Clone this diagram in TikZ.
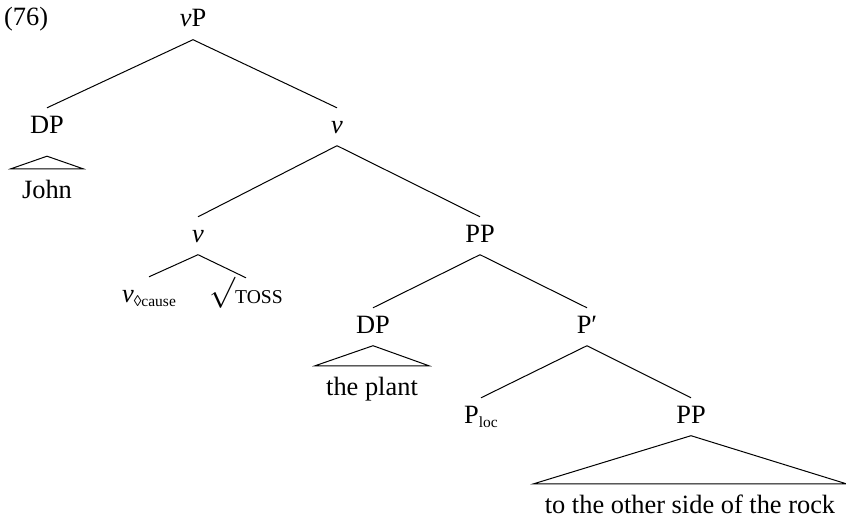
\documentclass[tikz,border=0pt]{standalone}
\usepackage{fontspec}
\setmainfont{Liberation Serif}
\newcommand{\subsz}{\fontsize{15.5}{18}\selectfont}
\newcommand{\capsz}{\fontsize{19.6}{22}\selectfont}
\begin{document}
\begin{tikzpicture}[x=1pt,y=-1pt,
  every node/.style={font=\fontsize{26.4}{30}\selectfont},
  lbl/.style={anchor=base, inner sep=0pt, inner ysep=7.5pt, text height=17.5pt, text depth=5pt},
  leaf/.style={anchor=base, inner sep=0pt, inner xsep=11pt, inner ysep=11pt, text height=18pt, text depth=0pt},
  branch/.style={line width=1pt},
  roof/.style={line width=1pt, line join=miter}]
\useasboundingbox (0,0) rectangle (846,519);
\node[anchor=base west, inner sep=0pt] (ex) at (4,26) {(76)};
% level 0
\node[lbl] (vP) at (193,27) {\textit{v}P};
% level 1
\node[lbl] (DPa) at (47,133) {DP};
\node[lbl] (va) at (337,133) {\textit{v}};
\node[leaf] (john) at (47,198) {John};
% level 2
\node[lbl] (vb) at (198,242) {\textit{v}};
\node[lbl] (PPa) at (480,242) {PP};
% level 3
\node[lbl] (vcause) at (149,302) {\textit{v}\raisebox{-4pt}{\subsz ◊cause}};
\node[lbl] (toss) at (246,303) {\raisebox{2pt}{\scalebox{1.25}{$\surd$}}{\capsz TOSS}};
\node[lbl] (DPb) at (373,333) {DP};
\node[lbl] (Pbar) at (587,333) {P′};
\node[leaf] (plant) at (372,395) {the plant};
% level 4
\node[lbl] (Ploc) at (481,423) {P\raisebox{-4pt}{\subsz loc}};
\node[lbl] (PPb) at (691,423) {PP};
\node[leaf] (rock) at (690,513) {to the other side of the rock};
% branches
\draw[branch] (vP.south) -- (DPa.north);
\draw[branch] (vP.south) -- (va.north);
\draw[branch] (va.south) -- (vb.north);
\draw[branch] (va.south) -- (PPa.north);
\draw[branch] (vb.south) -- (vcause.north);
\draw[branch] (vb.south) -- (toss.north);
\draw[branch] (PPa.south) -- (DPb.north);
\draw[branch] (PPa.south) -- (Pbar.north);
\draw[branch] (Pbar.south) -- (Ploc.north);
\draw[branch] (Pbar.south) -- (PPb.north);
% roofs
\coordinate (apexa) at ([yshift=-10.5pt]DPa.south);
\draw[roof] (apexa) -- (john.north west) -- (john.north east) -- cycle;
\draw[roof] (DPb.south) -- (plant.north west) -- (plant.north east) -- cycle;
\draw[roof] (PPb.south) -- (rock.north west) -- (rock.north east) -- cycle;
\end{tikzpicture}
\end{document}
